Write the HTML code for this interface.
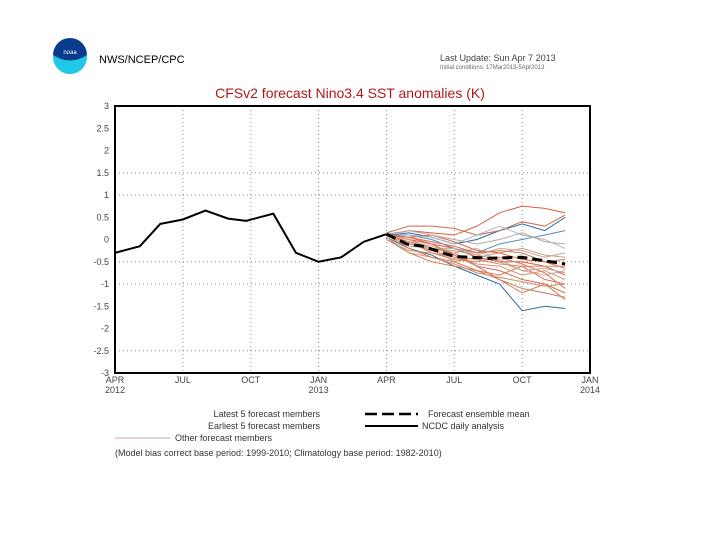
<!DOCTYPE html>
<html><head><meta charset="utf-8"><style>
body{margin:0;background:#fff;width:720px;height:540px;overflow:hidden;font-family:"Liberation Sans",sans-serif}
</style></head><body>
<svg width="720" height="540" font-family="Liberation Sans, sans-serif">
<g>
<circle cx="70" cy="57" r="17" fill="#1ec8e6"/>
<path d="M53,55 A17,17 0 0 1 87,55 Q70,66 53,55Z" fill="#0a3a8c"/>
<text x="70" y="54" font-size="6" fill="#fff" text-anchor="middle">noaa</text>
</g>
<text x="99" y="63" font-size="11">NWS/NCEP/CPC</text>
<text x="440" y="61" font-size="9" fill="#444">Last Update: Sun Apr 7 2013</text>
<text x="440" y="69" font-size="6" fill="#666">Initial conditions: 17Mar2013-5Apr2013</text>
<text x="350" y="98" font-size="14" fill="#b01818" text-anchor="middle">CFSv2 forecast Nino3.4 SST anomalies (K)</text>
<g id="grid"></g><g id="members"></g><g id="lines"></g><g id="axes"></g>
<g font-size="9" fill="#333">
<text x="320" y="417" text-anchor="end">Latest 5 forecast members</text>
<text x="320" y="429" text-anchor="end">Earliest 5 forecast members</text>
<line x1="115" y1="438" x2="170" y2="438" stroke="#c8a890"/>
<text x="175" y="441">Other forecast members</text>
<line x1="365" y1="414" x2="418" y2="414" stroke="#000" stroke-width="2.5" stroke-dasharray="12,5"/>
<text x="428" y="417">Forecast ensemble mean</text>
<line x1="365" y1="426" x2="418" y2="426" stroke="#000" stroke-width="2"/>
<text x="422" y="429">NCDC daily analysis</text>
<text x="115" y="456">(Model bias correct base period: 1999-2010; Climatology base period: 1982-2010)</text>
</g>
</svg>
<script>
const yTicks=[3,2.5,2,1.5,1,0.5,0,-0.5,-1,-1.5,-2,-2.5,-3];
const yGridValues=[1.5,1,-0.5,-1,-2.5];
const xTickMonths=[0,3,6,9,12,15,18,21];
const xTickLabels=["APR","JUL","OCT","JAN","APR","JUL","OCT","JAN"];
const xTickYears=["2012","","","2013","","","","2014"];
const obsMonths=[0,1.1,2,3,4,5,5.8,7,8,9,10,11,12];
const obsValues=[-0.3,-0.15,0.35,0.45,0.65,0.47,0.42,0.58,-0.3,-0.5,-0.4,-0.05,0.12];
const meanMonths=[12,12.9,13.6,15,16.5,18,19.9];
const meanValues=[0.12,-0.1,-0.15,-0.38,-0.42,-0.4,-0.55];
const memberMonths=[12,13,14,15,16,17,18,19,19.9];
const memberValues=[
[0.1,0.2,0.15,0.1,0.3,0.6,0.75,0.7,0.6],
[0.1,0.15,0.05,-0.1,0.0,0.2,0.35,0.2,0.5],
[0.15,0.3,0.3,0.25,0.1,0.2,0.4,0.3,0.55],
[0.05,-0.2,-0.35,-0.6,-0.8,-1.0,-1.6,-1.5,-1.55],
[0.1,0.0,-0.2,-0.3,-0.6,-0.9,-1.1,-1.2,-1.3],
[0.05,-0.3,-0.5,-0.6,-0.7,-0.9,-1.2,-1.0,-1.35],
[0.1,-0.1,-0.2,-0.5,-0.4,-0.3,-0.2,-0.35,-0.4],
[0.1,0.1,0.0,-0.2,-0.3,-0.1,0.0,0.1,0.2],
[0.12,-0.2,-0.4,-0.5,-0.7,-0.8,-0.6,-0.9,-1.0],
[0.08,-0.05,-0.15,-0.3,-0.2,-0.5,-0.7,-0.8,-0.7],
[0.1,0.05,0.1,-0.05,-0.25,-0.3,-0.45,-0.5,-0.65],
[0.0,-0.25,-0.3,-0.4,-0.55,-0.6,-0.8,-0.7,-0.9],
[0.1,0.0,-0.1,-0.2,-0.4,-0.5,-0.5,-0.6,-0.8],
[0.15,0.1,0.05,-0.1,0.1,0.3,0.1,0.0,-0.2],
[0.1,-0.05,-0.3,-0.45,-0.5,-0.4,-0.55,-0.75,-1.1],
[0.05,-0.15,-0.2,-0.2,-0.35,-0.2,-0.25,-0.4,-0.3],
[0.1,0.05,-0.1,-0.35,-0.6,-0.7,-0.9,-1.0,-1.2],
[0.12,0.2,0.1,0.0,-0.1,0.0,0.15,-0.05,-0.1],
[0.1,-0.1,-0.25,-0.4,-0.45,-0.55,-0.6,-0.6,-0.6],
[0.0,-0.3,-0.4,-0.55,-0.75,-0.85,-0.95,-1.05,-1.0],
[0.1,0.05,-0.05,-0.15,-0.3,-0.25,-0.3,-0.5,-0.45],
[0.1,0.0,-0.2,-0.25,-0.35,-0.45,-0.7,-0.65,-0.75]
];
const memberColors=["#d86040","#2a6aa8","#d06848","#2a6aa8","#c87058","#d88060","#c0a090","#5a88b8","#e07050","#d0a890","#e06840","#c89880","#d85a3a","#a8b8c8","#e07858","#c8a890","#d86848","#b8a8a0","#e08868","#c89070","#d07050","#c8a090"];
const X0=115,X1=590,Y0=106,Y1=373;
const xs=m=>X0+(X1-X0)*m/21;
const ys=v=>Y0+(Y1-Y0)*(3-v)/6;
const NS="http://www.w3.org/2000/svg";
function mk(p,t,a){const e=document.createElementNS(NS,t);for(const k in a)e.setAttribute(k,a[k]);document.getElementById(p).appendChild(e);return e;}
yGridValues.forEach(v=>{
  const g=mk("grid","line",{x1:X0,x2:X1,y1:ys(v),y2:ys(v),stroke:"#888","stroke-dasharray":"1,3"});
  
  
});
yTicks.forEach(v=>{
  const t=mk("axes","text",{x:X0-6,y:ys(v)+3,"font-size":"9",fill:"#444","text-anchor":"end"});
  t.textContent=v;
  
  
});
xTickMonths.forEach((m,i)=>{
  if(i>0&&i<xTickMonths.length-1){
    const g=mk("grid","line",{x1:xs(m),x2:xs(m),y1:Y0,y2:Y1,stroke:"#888","stroke-dasharray":"1,3"});
    
    
  }
  const t=mk("axes","text",{x:xs(m),y:Y1+10,"font-size":"9",fill:"#444","text-anchor":"middle"});
  t.textContent=xTickLabels[i];
  
  
  if(xTickYears[i]){const y=mk("axes","text",{x:xs(m),y:Y1+20,"font-size":"9",fill:"#444","text-anchor":"middle"});y.textContent=xTickYears[i];
  
  }
});
const fr=mk("axes","rect",{x:X0,y:Y0,width:X1-X0,height:Y1-Y0,fill:"none",stroke:"#000","stroke-width":"2"});


memberValues.forEach((s,i)=>{
  const p=mk("members","polyline",{points:s.map((v,j)=>xs(memberMonths[j])+","+ys(v)).join(" "),fill:"none",stroke:memberColors[i],"stroke-width":"1"});
  
  
});
const ob=mk("lines","polyline",{points:obsValues.map((v,j)=>xs(obsMonths[j])+","+ys(v)).join(" "),fill:"none",stroke:"#000","stroke-width":"2"});


const mn=mk("lines","polyline",{points:meanValues.map((v,j)=>xs(meanMonths[j])+","+ys(v)).join(" "),fill:"none",stroke:"#000","stroke-width":"3","stroke-dasharray":"10,5"});


</script>
</body></html>
